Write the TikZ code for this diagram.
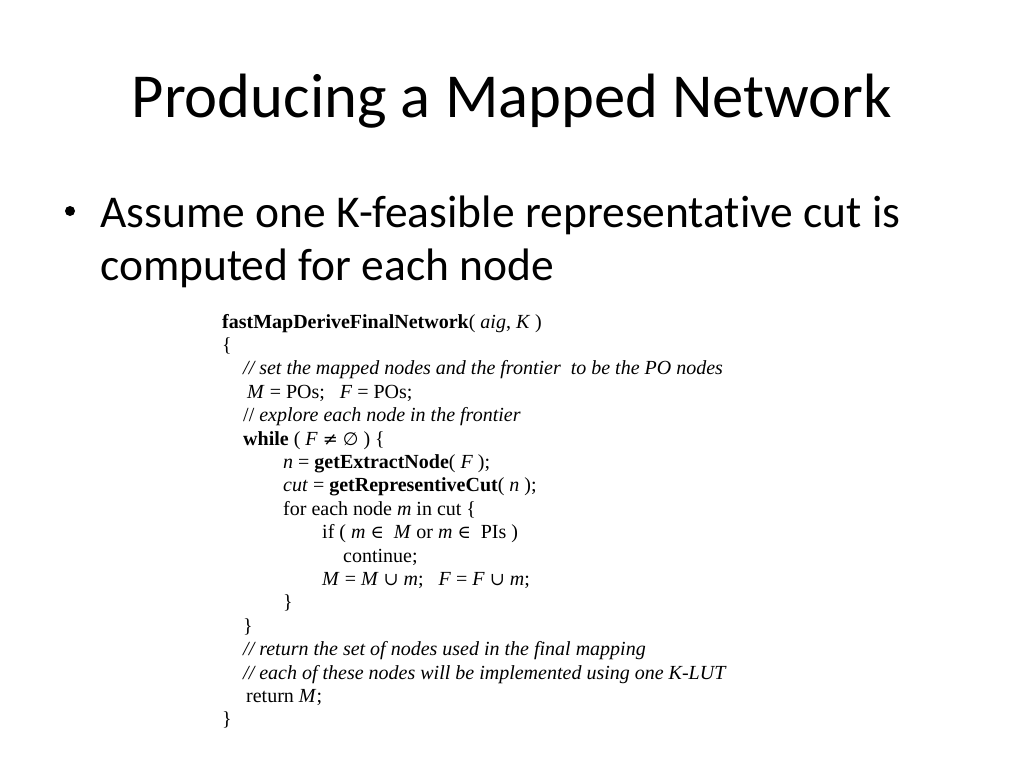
\documentclass[tikz,border=0pt]{standalone}
\usepackage{fontspec}
\setmainfont{Liberation Serif}
\newfontfamily\slidefont[Ligatures={NoCommon}]{Carlito}
\newfontfamily\symfont[Scale=0.9]{DejaVu Serif}
\newfontfamily\symsans[Scale=0.9]{DejaVu Sans}
\newcommand{\sneq}{{\symfont\char"2260}}
\newcommand{\sempty}{{\symsans\char"2205}}
\newcommand{\selem}{{\symfont\char"2208}}
\newcommand{\scup}{{\symfont\char"222A}}
\begin{document}
\begin{tikzpicture}[x=1pt,y=-1pt,
  codeline/.style={anchor=base west,inner sep=0pt,font=\fontsize{20}{23}\selectfont},
  bodytext/.style={anchor=base west,inner sep=0pt,font=\slidefont\fontsize{45.5}{53}\selectfont},
  titletext/.style={anchor=base,inner sep=0pt,font=\slidefont\fontsize{62.6}{75}\selectfont}]
\useasboundingbox[fill=white] (0,0) rectangle (1024,768);
\node[titletext] (title) at (512,117) {Producing a Mapped Network};
\fill (70,211) circle (5);
\node[bodytext] (b1) at (100,227) {Assume one K-feasible representative cut is};
\node[bodytext] (b2) at (100,280) {computed for each node};
\def\lh{23.4}
\node[codeline] (c0) at (222,328+0*\lh) {\textbf{fastMapDeriveFinalNetwork}( \textit{aig}, \textit{K} )};
\node[codeline] (c1) at (222,328+1*\lh) {\{};
\node[codeline] (c2) at (243,328+2*\lh) {\textit{// set the mapped nodes and the frontier\ \ to be the PO nodes}};
\node[codeline] (c3) at (247,328+3*\lh) {\textit{M} = POs;\ \ \ \textit{F} = POs;};
\node[codeline] (c4) at (243,328+4*\lh) {// \textit{explore each node in the frontier}};
\node[codeline] (c5) at (243,328+5*\lh) {\textbf{while} ( \textit{F} \sneq\ \sempty\ ) \{};
\node[codeline] (c6) at (283,328+6*\lh) {\textit{n} = \textbf{getExtractNode}( \textit{F} );};
\node[codeline] (c7) at (283,328+7*\lh) {\textit{cut} = \textbf{getRepresentiveCut}( \textit{n} );};
\node[codeline] (c8) at (283,328+8*\lh) {for each node \textit{m} in cut \{};
\node[codeline] (c9) at (322,328+9*\lh) {if ( \textit{m} \selem\ \ \textit{M} or \textit{m} \selem\ \ PIs )};
\node[codeline] (c10) at (343,328+10*\lh) {continue;};
\node[codeline] (c11) at (322,328+11*\lh) {\textit{M} = \textit{M} \scup\ \textit{m};\ \ \ \textit{F} = \textit{F} \scup\ \textit{m};};
\node[codeline] (c12) at (283,328+12*\lh) {\}};
\node[codeline] (c13) at (243,328+13*\lh) {\}};
\node[codeline] (c14) at (243,328+14*\lh) {\textit{// return the set of nodes used in the final mapping}};
\node[codeline] (c15) at (243,328+15*\lh) {\textit{// each of these nodes will be implemented using one K-LUT}};
\node[codeline] (c16) at (246,328+16*\lh) {return \textit{M};};
\node[codeline] (c17) at (222,328+17*\lh) {\}};
\end{tikzpicture}
\end{document}
